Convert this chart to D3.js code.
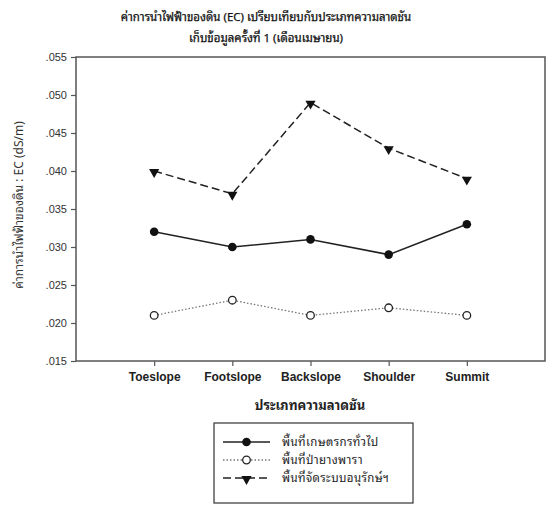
<!DOCTYPE html>
<html>
<head>
<meta charset="utf-8">
<script src="https://cdn.jsdelivr.net/npm/d3@7"></script>
<style>
  html, body { margin: 0; padding: 0; background: #fff; }
  svg { display: block; }
  text { font-family: "Liberation Sans", Arial, sans-serif; }
  text.thai { font-family: Tahoma, "Noto Sans Thai Looped", Loma, Garuda, "Noto Sans Thai", "DejaVu Sans", sans-serif; }
</style>
</head>
<body>
<svg id="chart" width="546" height="509"></svg>
<script>
// Soil EC by slope position, sampling round 1
const categories = ["Toeslope", "Footslope", "Backslope", "Shoulder", "Summit"];
const generalFarm = [0.032, 0.030, 0.031, 0.029, 0.033];
const rubberFarm = [0.021, 0.023, 0.021, 0.022, 0.021];
const conservation = [0.040, 0.037, 0.049, 0.043, 0.039];
const seriesNames = ["พื้นที่เกษตรกรทั่วไป", "พื้นที่ป่ายางพารา", "พื้นที่จัดระบบอนุรักษ์ฯ"];
const yTicks = [0.015, 0.020, 0.025, 0.030, 0.035, 0.040, 0.045, 0.050, 0.055];
const titleLines = ["ค่าการนำไฟฟ้าของดิน (EC) เปรียบเทียบกับประเภทความลาดชัน", "เก็บข้อมูลครั้งที่ 1 (เดือนเมษายน)"];
const xTitle = "ประเภทความลาดชัน";
const yTitle = "ค่าการนำไฟฟ้าของดิน : EC (dS/m)";

const svg = d3.select("#chart");
const plotLeft = 76, plotRight = 545, plotTop = 57, plotBottom = 361;

const x = d3.scaleLinear().domain([0, categories.length + 1]).range([plotLeft, plotRight]);
const y = d3.scaleLinear().domain([0.015, 0.055]).range([plotBottom, plotTop]);

const axisColor = "#555";

// frame
svg.append("rect")
  .attr("x", plotLeft).attr("y", plotTop)
  .attr("width", plotRight - plotLeft).attr("height", plotBottom - plotTop)
  .attr("fill", "none").attr("stroke", axisColor).attr("stroke-width", 1.5);

// y axis
const yAxis = svg.append("g")
  .attr("transform", `translate(${plotLeft},0)`)
  .call(d3.axisLeft(y).tickValues(yTicks).tickSize(5).tickPadding(4)
    .tickFormat(d => d3.format(".3f")(d).replace(/^0/, "")));
yAxis.select(".domain").remove();
yAxis.selectAll("line").attr("stroke", axisColor).attr("stroke-width", 1.2);
yAxis.selectAll("text").attr("font-size", 11).attr("fill", "#333");

// x axis
const xAxis = svg.append("g")
  .attr("transform", `translate(0,${plotBottom})`)
  .call(d3.axisBottom(x).tickValues(categories.map((c, i) => i + 1)).tickSize(5).tickPadding(6)
    .tickFormat((d, i) => categories[i]));
xAxis.select(".domain").remove();
xAxis.selectAll("line").attr("stroke", axisColor).attr("stroke-width", 1.2);
xAxis.selectAll("text").attr("font-size", 12).attr("font-weight", "bold").attr("fill", "#222");

// titles
svg.append("g").selectAll("text").data(titleLines).join("text")
  .attr("class", "thai")
  .attr("x", 266).attr("y", (d, i) => 21 + i * 21)
  .attr("text-anchor", "middle").attr("font-size", 11.5)
  .attr("stroke", "#111").attr("stroke-width", 0.25)
  .attr("fill", "#111").text(d => d);

svg.append("text")
  .attr("class", "thai")
  .attr("x", 310).attr("y", 410)
  .attr("text-anchor", "middle").attr("font-size", 13).attr("font-weight", "bold")
  .attr("fill", "#222").text(xTitle);

svg.append("text")
  .attr("class", "thai")
  .attr("transform", `translate(23,${(plotTop + plotBottom) / 2 - 4}) rotate(-90)`)
  .attr("text-anchor", "middle").attr("font-size", 12)
  .attr("fill", "#333").text(yTitle);

// series
const series = [
  { name: seriesNames[0], values: generalFarm, dash: null, color: "#222", width: 1.5, marker: "filled" },
  { name: seriesNames[1], values: rubberFarm, dash: "1.5,2", color: "#777", width: 1.3, marker: "open" },
  { name: seriesNames[2], values: conservation, dash: "8,4", color: "#222", width: 1.5, marker: "tri" }
];

const line = d3.line().x((d, i) => x(i + 1)).y(d => y(d));
const triangle = d3.symbol().type(d3.symbolTriangle).size(45);

function drawMarker(g, s, cx, cy) {
  if (s.marker === "filled") {
    g.append("circle").attr("cx", cx).attr("cy", cy).attr("r", 4.3).attr("fill", "#111");
  } else if (s.marker === "open") {
    g.append("circle").attr("cx", cx).attr("cy", cy).attr("r", 3.8)
      .attr("fill", "#fff").attr("stroke", "#222").attr("stroke-width", 1.3);
  } else {
    g.append("path").attr("d", triangle())
      .attr("transform", `translate(${cx},${cy + 1}) rotate(180)`).attr("fill", "#111");
  }
}

series.forEach(s => {
  const g = svg.append("g");
  g.append("path").datum(s.values)
    .attr("d", line).attr("fill", "none")
    .attr("stroke", s.color).attr("stroke-width", s.width)
    .attr("stroke-dasharray", s.dash);
  s.values.forEach((v, i) => drawMarker(g, s, x(i + 1), y(v)));
});

// legend
const legend = svg.append("g");
legend.append("rect")
  .attr("x", 214).attr("y", 423).attr("width", 199).attr("height", 80)
  .attr("fill", "#fff").attr("stroke", "#333").attr("stroke-width", 1.2);
series.forEach((s, i) => {
  const ly = 442 + i * 18;
  legend.append("line")
    .attr("x1", 223).attr("x2", 270).attr("y1", ly).attr("y2", ly)
    .attr("stroke", s.color).attr("stroke-width", s.width)
    .attr("stroke-dasharray", s.dash);
  drawMarker(legend, s, 246.5, ly);
  legend.append("text")
    .attr("class", "thai")
    .attr("x", 282).attr("y", ly + 4)
    .attr("font-size", 11.5).attr("letter-spacing", 0.4).attr("fill", "#222").text(s.name);
});
</script>
</body>
</html>
